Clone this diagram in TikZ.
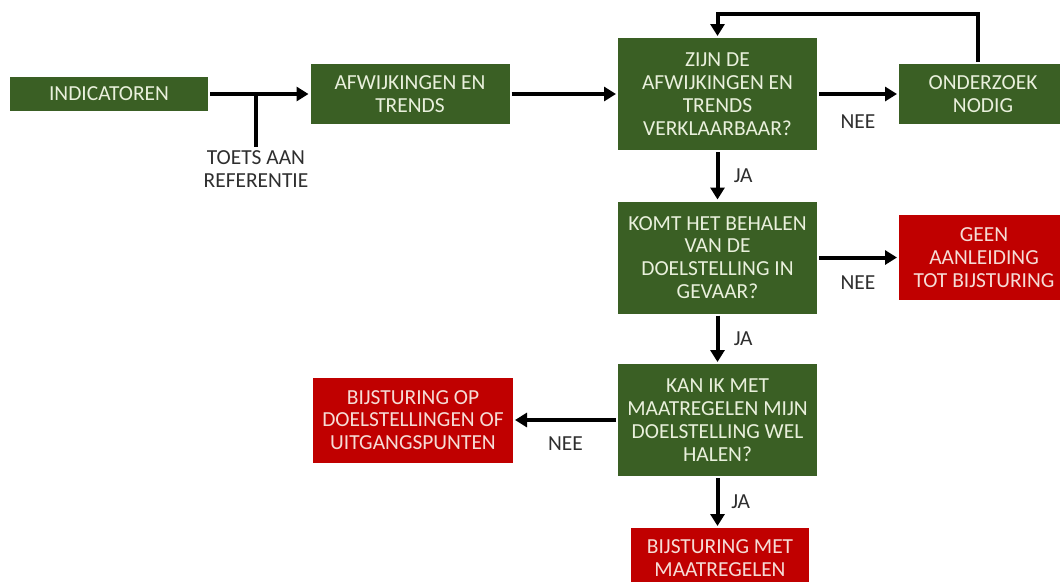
\documentclass[tikz,border=0pt]{standalone}
\usepackage{fontspec}
\setmainfont{Carlito}
\usetikzlibrary{arrows.meta,positioning,calc}
\definecolor{boxgreen}{HTML}{3A5F24}
\definecolor{boxred}{HTML}{C00000}
\definecolor{boxtext}{HTML}{E9F0DC}
\definecolor{redtext}{HTML}{F6DCD6}
\definecolor{labeltext}{HTML}{2E2E2E}
\begin{document}
\begin{tikzpicture}[line width=0.8mm, >={Triangle[length=2.4mm,width=2.8mm]},
    font=\fontsize{12.2}{13}\selectfont,
    go/.style={fill=boxgreen, text=boxtext, align=center, inner sep=0pt, minimum width=3.98cm},
    stop/.style={fill=boxred, text=redtext, align=center, inner sep=0pt},
    lbl/.style={text=labeltext, align=center, inner sep=1pt}]
  \clip (0,0) rectangle (21.2,-11.62);
  % top row
  \node[go, minimum width=3.96cm, minimum height=0.68cm] (ind) at (2.18,-1.88) {INDICATOREN};
  \node[go, minimum height=1.2cm] (afw) at (8.2,-1.88) {AFWIJKINGEN EN\\TRENDS};
  \node[go, minimum height=2.24cm] (zijn) at (14.35,-1.88) {ZIJN DE\\AFWIJKINGEN EN\\TRENDS\\VERKLAARBAAR?};
  \node[go, minimum width=3.36cm, minimum height=1.2cm] (ond) at (19.66,-1.88) {ONDERZOEK\\NODIG};
  \node[lbl] (toets) at (5.12,-3.38) {TOETS AAN\\REFERENTIE};
  % middle column
  \node[go, minimum height=2.24cm] (komt) at (14.35,-5.15) {KOMT HET BEHALEN\\VAN DE\\DOELSTELLING IN\\GEVAAR?};
  \node[stop, minimum width=3.4cm, minimum height=1.7cm] (geen) at (19.68,-5.15) {GEEN\\AANLEIDING\\TOT BIJSTURING};
  \node[go, minimum height=2.24cm] (kan) at (14.35,-8.4) {KAN IK MET\\MAATREGELEN MIJN\\DOELSTELLING WEL\\HALEN?};
  \node[stop, minimum width=4cm, minimum height=1.7cm] (bop) at (8.26,-8.4) {BIJSTURING OP\\DOELSTELLINGEN OF\\UITGANGSPUNTEN};
  \node[stop, minimum width=3.56cm, minimum height=1.2cm] (bmet) at (14.4,-11.16) {BIJSTURING MET\\MAATREGELEN};
  % connectors
  \draw[->] (ind) -- (afw);
  \draw (toets.north) -- (toets.north |- ind.east);
  \draw[->] (afw) -- (zijn);
  \draw[->] (zijn) -- node[lbl, below=0.34cm] {NEE} (ond);
  \draw[->] ([xshift=-0.1cm]ond.north) -- ++(0,0.96) -| (zijn.north);
  \draw[->] (zijn) -- node[lbl, right=0.25cm] {JA} (komt);
  \draw[->] (komt) -- node[lbl, below=0.28cm] {NEE} (geen);
  \draw[->] (komt) -- node[lbl, right=0.25cm] {JA} (kan);
  \draw[->] (kan) -- node[lbl, below=0.26cm] {NEE} (bop);
  \draw[->] (kan) -- node[lbl, right=0.2cm] {JA} (kan |- bmet.north);
\end{tikzpicture}
\end{document}
